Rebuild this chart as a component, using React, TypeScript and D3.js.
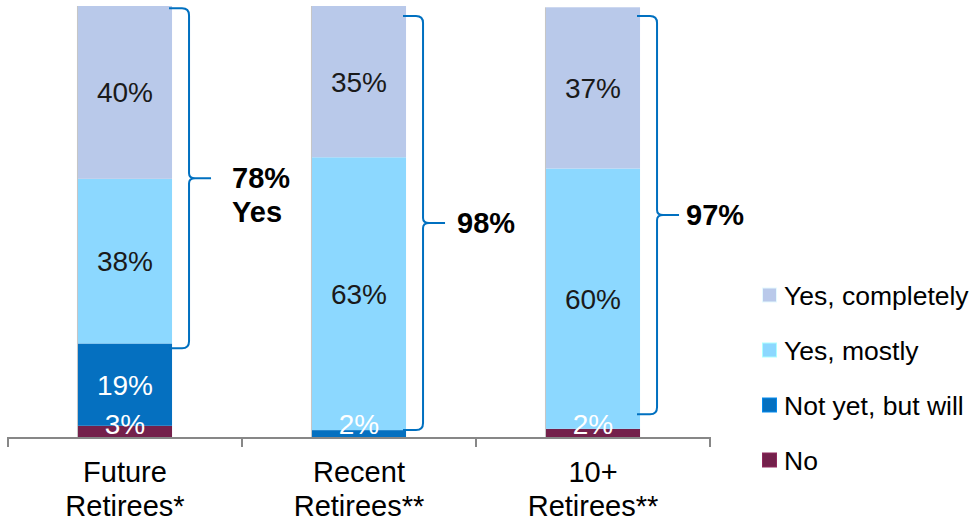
import React from "react";
import * as d3 from "d3";

const categories = ["Future Retirees*", "Recent Retirees**", "10+ Retirees**"];
const categoryLines = [["Future", "Retirees*"], ["Recent", "Retirees**"], ["10+", "Retirees**"]];
const seriesNames = ["No", "Not yet, but will", "Yes, mostly", "Yes, completely"];
const noValues = [2.6, 0, 1.9];
const notYetValues = [19.1, 1.6, 0];
const mostlyValues = [38.2, 63.3, 60.4];
const completelyValues = [40.1, 35.1, 37.4];
const bracketLow = [20.6, 1.6, 5.3];
const bracketHigh = [99.5, 97.7, 97.7];
const bracketLabels = [["78%", "Yes"], ["98%"], ["97%"]];

const colors: Record<string, string> = {
  "No": "#74204B",
  "Not yet, but will": "#0570C0",
  "Yes, mostly": "#8CD8FF",
  "Yes, completely": "#B9C9EA",
};
const labelColors: Record<string, string> = {
  "No": "#ffffff",
  "Not yet, but will": "#ffffff",
  "Yes, mostly": "#1a1a1a",
  "Yes, completely": "#1a1a1a",
};
const legendOrder = ["Yes, completely", "Yes, mostly", "Not yet, but will", "No"];
const bracketLabelGap = [21, 12, 7];

const W = 969;
const H = 522;
const FONT = "'Liberation Sans', Arial, sans-serif";

export default function App() {
  const rows = categories.map((c, i) => ({
    cat: c,
    "No": noValues[i],
    "Not yet, but will": notYetValues[i],
    "Yes, mostly": mostlyValues[i],
    "Yes, completely": completelyValues[i],
  }));
  const stack = d3.stack<any>().keys(seriesNames);
  const layers = stack(rows);

  const x = d3.scaleBand<string>().domain(categories).range([8, 710]).paddingInner(0.598).paddingOuter(0.299);
  const y = d3.scaleLinear().domain([0, 100]).range([437, 6]);
  const step = x.step();
  const fmt = d3.format(".0f");
  const y0 = y(0);

  return (
    <svg width={W} height={H} style={{ position: "absolute", left: 0, top: 0, background: "#fff" }} fontFamily={FONT}>
      {layers.map((layer) => (
        <g key={layer.key}>
          {layer.map((d, i) => {
            const v = d[1] - d[0];
            if (v <= 0) return null;
            const bx = x(categories[i])!;
            return (
              <rect key={i} x={bx} y={y(d[1])} width={x.bandwidth()} height={y(d[0]) - y(d[1])} fill={colors[layer.key]} />
            );
          })}
        </g>
      ))}
      {categories.map((c, i) => (
        <line key={c} x1={x(c)! - 0.5} x2={x(c)! - 0.5} y1={y(d3.sum(layers, (l) => l[i][1] - l[i][0]))} y2={y0} stroke="#c4c4c4" strokeWidth={1} />
      ))}
      {layers.map((layer) => (
        <g key={"lbl" + layer.key}>
          {layer.map((d, i) => {
            const v = d[1] - d[0];
            if (v <= 0) return null;
            const cx = x(categories[i])! + x.bandwidth() / 2;
            const mid = Math.min((y(d[0]) + y(d[1])) / 2, y0 - 13);
            return (
              <text key={i} x={cx} y={mid} dy="0.36em" textAnchor="middle" fontSize={28} fill={labelColors[layer.key]}>
                {fmt(v) + "%"}
              </text>
            );
          })}
        </g>
      ))}
      <line x1={8} x2={710} y1={y0 + 1} y2={y0 + 1} stroke="#878787" strokeWidth={2} />
      {d3.range(categories.length + 1).map((k) => (
        <line key={k} x1={8 + k * step} x2={8 + k * step} y1={y0} y2={y0 + 10} stroke="#878787" strokeWidth={2} />
      ))}
      {categories.map((c, i) => (
        <text key={c} x={x(c)! + x.bandwidth() / 2} textAnchor="middle" fontSize={29} fill="#000">
          {categoryLines[i].map((ln, j) => (
            <tspan key={j} x={x(c)! + x.bandwidth() / 2} y={482 + j * 34}>{ln}</tspan>
          ))}
        </text>
      ))}
      {categories.map((c, i) => {
        const x0 = x(c)! + x.bandwidth() - 3;
        const xv = x0 + 20;
        const xp = xv + 22;
        const yt = y(bracketHigh[i]);
        const yb = y(bracketLow[i]);
        const ym = (yt + yb) / 2;
        const r = 7;
        const p = `M${x0},${yt} L${xv - r},${yt} Q${xv},${yt} ${xv},${yt + r} L${xv},${ym - 5} Q${xv},${ym} ${xv + 6},${ym} L${xp},${ym} M${xv + 6},${ym} Q${xv},${ym} ${xv},${ym + 5} L${xv},${yb - r} Q${xv},${yb} ${xv - r},${yb} L${x0},${yb}`;
        const lines = bracketLabels[i];
        const lx = xp + bracketLabelGap[i];
        return (
          <g key={"br" + c}>
            <path d={p} fill="none" stroke="#0070C0" strokeWidth={2} />
            <text fontSize={29} fontWeight="bold" fill="#000">
              {lines.map((ln, j) => (
                <tspan key={j} x={lx} y={ym + 10 + j * 34}>{ln}</tspan>
              ))}
            </text>
          </g>
        );
      })}
      {legendOrder.map((k, i) => (
        <g key={k} transform={`translate(762, ${295 + i * 55})`}>
          <rect x={0.5} y={-7} width={14} height={14} fill={colors[k]} stroke={d3.color(colors[k])!.brighter(0.6).formatHex()} strokeWidth={1} />
          <text x={22} y={0} dy="0.36em" fontSize={26.5} fill="#000">{k}</text>
        </g>
      ))}
    </svg>
  );
}
